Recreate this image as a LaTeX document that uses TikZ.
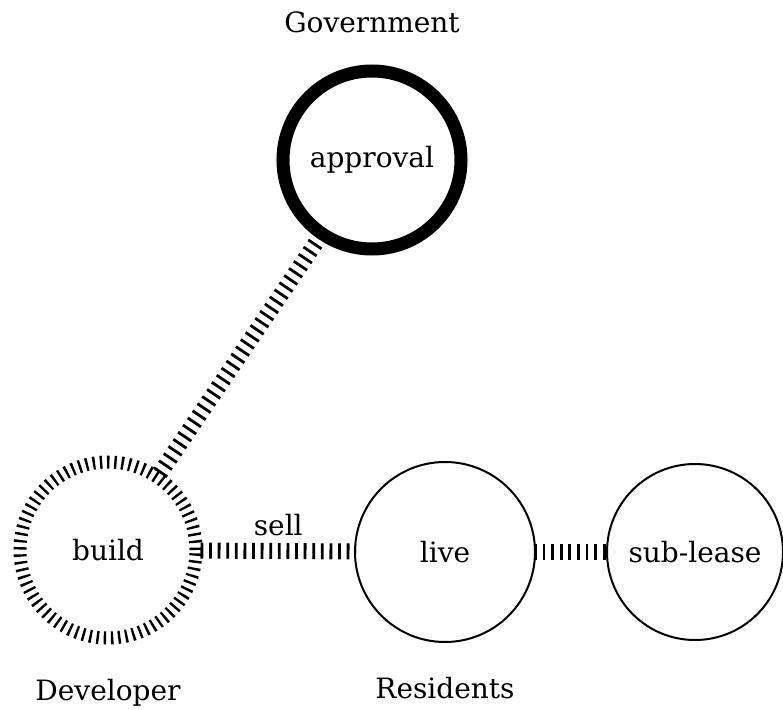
\documentclass[tikz,border=0pt]{standalone}
\usepackage{fontspec}
\setmainfont{DejaVu Serif}
\usetikzlibrary{positioning}

\begin{document}
\begin{tikzpicture}[x=0.5pt, y=0.5pt,
    font=\fontsize{14}{17}\selectfont,
    role/.style={circle, draw, line width=1pt, minimum size=90pt, inner sep=0pt},
    official/.style={role, line width=6.5pt, minimum size=89pt},
    busy/.style={role, line width=6.5pt, minimum size=88pt, dash pattern=on 1.2pt off 2.4pt},
    rail/.style={line width=8pt, dash pattern=on 1.4pt off 2.9pt, shorten >=-1pt, shorten <=-1pt},
    party/.style={inner sep=0pt}]
    \useasboundingbox (0,0) rectangle (783,709);

    % Circles
    \node[official] (approval) at (372,549) {approval};
    \node[busy] (build) at (108,159) {build};
    \node[role] (live) at (445,157) {live};
    \node[role, minimum size=88pt] (sublease) at (695,157) {sub-lease};

    % Who does what
    \node[party, above=15.5pt of approval] (government) {Government};
    \node[party, below=17pt of build] (developer) {Developer};
    \node[party, below=17pt of live] (residents) {Residents};

    % Links
    \draw[rail] (build) -- (approval);
    \draw[rail] (build) -- node[above=0pt] (sell) {sell} (live);
    \draw[rail] (live) -- (sublease);
\end{tikzpicture}
\end{document}
